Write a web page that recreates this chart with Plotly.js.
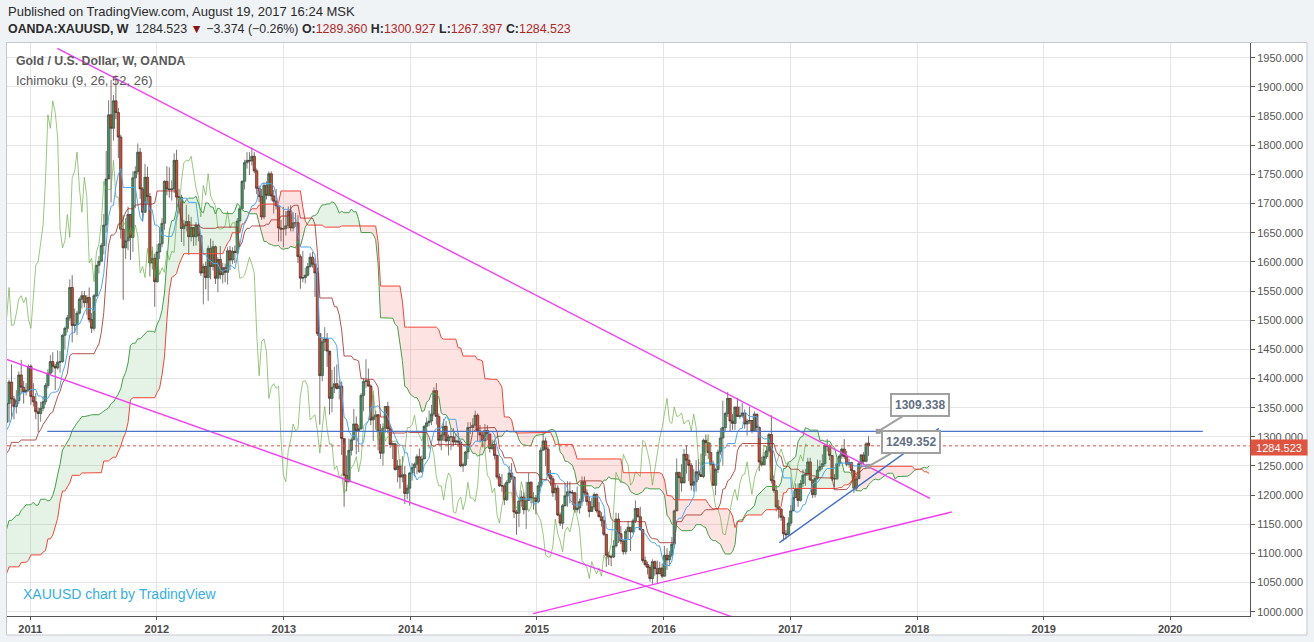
<!DOCTYPE html>
<html><head><meta charset="utf-8">
<script src="https://cdn.plot.ly/plotly-3.0.1.min.js"></script>
<style>html,body{margin:0;padding:0;background:#f0f3f6;}#chart{width:1314px;height:642px;}</style>
</head><body><div id="chart"></div>
<script>
// Weekly bars (Monday dates), first bar week of 2009-04-06
const firstWeek = '2009-04-06';
const open = [
 897,882,870,911,886,915,929,957,978,961,937,935,940,931,913,937,953,953,955,946,951,955,996,1006,1004,990,1003,1049,1052,1056,1040,1095,1118,1145,1175,1162,1118,1110,1105,
 1097,1138,1131,1090, 1083,1050,1090,1097, 1118,1133,1103,1107,1106, 1127,1161,1125,1140, 1180,1208,1227,1176,1212, 1219,1226,1256,1256, 1210,1210,1190,1188, 1182,1204,1215,1227,1237, 1247,1246,1275,1296, 1317,1346,1369,1325, 1357,1394,1365,1352,1362, 1406,1385,1377,1380,
 1421,1369,1360,1343,1340, 1349,1360,1388,1409, 1429,1421,1418,1428, 1429,1474,1486,1504, 1556,1491,1492,1512,1536, 1542,1530,1539,1501, 1486,1542,1594,1601, 1628,1663,1742,1852,1829, 1876,1856,1814,1656, 1624,1636,1681,1642,1744, 1755,1788,1725,1685, 1745,1712,1598,1606,
 1566,1617,1631,1666,1738, 1725,1724,1725,1774, 1711,1711,1657,1662, 1669,1643,1659,1643,1663, 1645,1581,1592,1573, 1623,1592,1626,1572, 1604,1578,1590,1582,1619, 1603,1618,1616,1670, 1691,1738,1770,1774, 1773,1781,1756,1726,1712, 1677,1731,1714,1751, 1713,1704,1696,1658,1656,
 1657,1662,1687,1658, 1667,1667,1609,1572, 1573,1577,1592,1608, 1596,1581,1477,1405,1463, 1468,1447,1366,1385, 1391,1383,1387,1297, 1234,1223,1277,1295,1322, 1310,1314,1371,1395, 1396,1387,1329,1334,1338, 1310,1272,1315,1352, 1314,1287,1288,1244, 1250,1231,1235,1203,1212,
 1238,1247,1253,1266, 1240,1262,1318,1324, 1327,1339,1379,1335,1294, 1303,1318,1293,1300, 1300,1291,1293,1291, 1250,1252,1274,1316,1316, 1320,1337,1310,1303, 1293,1311,1305,1280, 1287,1268,1231,1216,1216, 1192,1222,1238,1231, 1171,1169,1190,1197, 1175,1191,1222,1195,1195,
 1189,1216,1277,1293, 1279,1234,1228,1204, 1212,1166,1152,1182,1199, 1206,1204,1204,1175, 1178,1189,1223,1204, 1189,1172,1180,1201,1173, 1163,1156,1133,1097, 1094,1094,1113,1159,1134, 1121,1103,1138,1145, 1137,1156,1177,1163, 1141,1088,1081,1076,1057, 1086,1074,1065,1075,
 1061,1097,1089,1097, 1116,1173,1239,1230,1221, 1270,1260,1251,1217, 1223,1240,1235,1232, 1294,1290,1273,1253,1217, 1244,1274,1298,1316, 1340,1366,1327,1323, 1351,1335,1336,1341,1322, 1327,1328,1310,1339, 1316,1257,1252,1266,1276, 1304,1225,1208,1180, 1176,1162,1134,1132,
 1152,1173,1196,1210,1191, 1220,1234,1236,1257, 1226,1201,1229,1243, 1249,1254,1285,1284, 1268,1228,1228,1254,1267, 1279,1266,1253,1256, 1242,1212,1228,1254,1269, 1258,1289.360
];
const high = [
 900,895,915,912,920,935,960,980,990,965,945,945,945,935,940,958,960,965,960,955,960,1000,1010,1025,1016,1010,1052,1070,1070,1050,1100,1120,1150,1195,1227,1165,1140,1110,1110,
 1162,1155,1140,1100, 1090,1095,1125,1120, 1145,1140,1130,1110,1130, 1167,1170,1145,1183, 1212,1249,1230,1217,1227, 1238,1264,1262,1265, 1215,1215,1200,1190, 1210,1222,1235,1243,1253, 1259,1278,1300,1320, 1350,1387,1370,1360, 1398,1424,1370,1380,1412, 1432,1396,1392,1424,
 1424,1392,1375,1350,1360, 1370,1392,1416,1440, 1445,1425,1448,1447, 1476,1489,1509,1570, 1577,1520,1516,1539,1550, 1550,1543,1556,1512, 1545,1595,1610,1632, 1682,1790,1877,1912,1886, 1920,1864,1818,1680, 1675,1695,1682,1755,1764, 1803,1795,1728,1768, 1763,1718,1620,1614,
 1630,1660,1675,1740,1764, 1762,1740,1786,1792, 1725,1715,1672,1698, 1681,1677,1657,1668,1667, 1645,1597,1600,1628, 1640,1636,1628,1608, 1627,1598,1597,1625,1627, 1625,1628,1675,1695, 1740,1775,1788,1788, 1796,1788,1760,1731,1725, 1737,1738,1755,1755, 1723,1725,1697,1672,1694,
 1687,1695,1697,1685, 1684,1680,1613,1619, 1590,1598,1615,1617, 1605,1590,1478,1470,1488, 1478,1440,1415,1420, 1424,1397,1395,1290, 1268,1297,1299,1348,1335, 1320,1375,1400,1433, 1417,1390,1372,1345,1335, 1322,1323,1352,1360, 1321,1290,1290,1260, 1262,1267,1250,1218,1240,
 1255,1256,1270,1280, 1268,1320,1333,1345, 1355,1385,1392,1340,1308, 1331,1327,1304,1315, 1315,1306,1307,1295, 1256,1276,1325,1325,1332, 1345,1340,1320,1310, 1322,1320,1305,1295, 1293,1270,1237,1236,1220, 1226,1250,1255,1232, 1175,1196,1208,1205, 1223,1238,1224,1205,1200,
 1223,1282,1307,1299, 1283,1243,1233,1220, 1217,1170,1185,1219,1224, 1223,1209,1205,1215, 1194,1232,1232,1210, 1198,1195,1205,1203,1188, 1171,1165,1133,1103, 1098,1123,1170,1169,1147, 1124,1142,1156,1145, 1160,1191,1178,1180, 1142,1095,1086,1080,1090, 1088,1088,1086,1083,
 1113,1109,1104,1128, 1175,1263,1240,1253,1279, 1286,1270,1255,1245, 1260,1262,1271,1297, 1304,1291,1290,1259,1247, 1278,1315,1362,1343, 1377,1365,1339,1352, 1367,1352,1358,1347,1331, 1352,1329,1344,1338, 1318,1266,1274,1284,1307, 1337,1234,1217,1192, 1178,1165,1140,1162,
 1183,1208,1220,1220,1226, 1244,1245,1264,1264, 1227,1232,1261,1260, 1270,1288,1296,1287, 1266,1236,1264,1270,1282, 1296,1276,1262,1257, 1240,1233,1258,1270,1274, 1291,1300.927
];
const low = [
 866,865,868,880,883,908,925,945,955,930,922,920,925,905,912,935,940,945,940,930,940,945,985,1000,985,988,1000,1040,1042,1027,1040,1090,1115,1140,1160,1105,1100,1075,1090,
 1095,1120,1085,1075, 1044,1045,1090,1085, 1110,1100,1095,1085,1100, 1125,1120,1125,1140, 1163,1200,1160,1185,1195, 1215,1220,1225,1200, 1192,1185,1178,1157, 1180,1192,1210,1222,1235, 1240,1240,1270,1290, 1312,1340,1318,1320, 1325,1330,1330,1340,1356, 1374,1357,1371,1378,
 1355,1352,1330,1308,1326, 1344,1355,1383,1407, 1410,1380,1415,1410, 1427,1450,1479,1499, 1462,1478,1475,1510,1520, 1522,1509,1496,1478, 1482,1540,1580,1600, 1613,1650,1750,1702,1808, 1845,1778,1640,1535, 1605,1620,1603,1617,1692, 1750,1708,1670,1684, 1700,1575,1587,1523,
 1564,1605,1625,1655,1714, 1710,1705,1718,1688, 1683,1634,1627,1652, 1612,1635,1627,1628,1635, 1576,1527,1553,1533, 1570,1585,1562,1548, 1570,1563,1565,1561,1586, 1596,1598,1612,1649, 1690,1724,1760,1749, 1765,1752,1716,1702,1672, 1673,1707,1712,1705, 1683,1690,1635,1635,1625,
 1645,1657,1652,1652, 1660,1598,1554,1565, 1563,1575,1590,1590, 1540,1473,1321,1395,1447, 1420,1338,1342,1375, 1381,1364,1269,1180, 1207,1222,1268,1295,1270, 1274,1312,1344,1384, 1386,1320,1293,1312,1277, 1262,1251,1307,1306, 1281,1262,1242,1222, 1211,1222,1185,1193,1182,
 1225,1232,1236,1238, 1238,1262,1307,1318, 1320,1335,1321,1285,1277, 1293,1290,1268,1277, 1284,1286,1283,1248, 1240,1250,1262,1305,1310, 1312,1292,1290,1282, 1280,1294,1273,1277, 1261,1227,1214,1206,1183, 1190,1220,1226,1161, 1132,1145,1180,1167, 1142,1190,1186,1175,1167,
 1186,1213,1276,1250, 1230,1216,1197,1191, 1164,1147,1142,1180,1180, 1186,1183,1170,1170, 1168,1182,1200,1182, 1162,1175,1175,1170,1162, 1146,1130,1077,1080, 1078,1092,1110,1118,1116, 1098,1098,1123,1104, 1134,1152,1162,1139, 1084,1077,1064,1052,1046, 1062,1049,1066,1058,
 1061,1072,1078,1093, 1109,1175,1192,1206,1223, 1237,1224,1208,1206, 1206,1226,1231,1229, 1267,1262,1250,1216,1200, 1238,1269,1251,1308, 1334,1310,1312,1312, 1334,1331,1333,1314,1302, 1322,1306,1309,1309, 1241,1249,1251,1262,1272, 1220,1204,1172,1160, 1156,1122,1124,1133,
 1147,1174,1195,1180,1189, 1214,1216,1233,1224, 1195,1196,1226,1240, 1244,1249,1275,1260, 1224,1214,1226,1249,1262, 1262,1249,1247,1237, 1204,1207,1233,1247,1253, 1256,1267.397
];
const close = [
 882,870,911,886,915,929,957,978,961,937,935,940,931,913,937,953,953,955,946,951,955,996,1006,1004,990,1003,1049,1052,1056,1040,1095,1118,1145,1175,1162,1118,1110,1105,1097,
 1138,1131,1090,1083, 1050,1090,1097,1118, 1133,1103,1107,1106,1127, 1161,1125,1140,1180, 1208,1227,1176,1212,1219, 1226,1256,1256,1210, 1210,1190,1188,1182, 1204,1215,1227,1237,1247, 1246,1275,1296,1317, 1346,1369,1325,1357, 1394,1365,1352,1362,1406, 1385,1377,1380,1421,
 1369,1360,1343,1340,1349, 1360,1388,1409,1429, 1421,1418,1428,1429, 1474,1486,1504,1556, 1491,1492,1512,1536,1542, 1530,1539,1501,1486, 1542,1594,1601,1628, 1663,1742,1852,1829,1876, 1856,1814,1656,1624, 1636,1681,1642,1744,1755, 1788,1725,1685,1745, 1712,1598,1606,1566,
 1617,1631,1666,1738,1725, 1724,1725,1774,1711, 1711,1657,1662,1669, 1643,1659,1643,1663,1645, 1581,1592,1573,1623, 1592,1626,1572,1604, 1578,1590,1582,1619,1603, 1618,1616,1670,1691, 1738,1770,1774,1773, 1781,1756,1726,1712,1677, 1731,1714,1751,1713, 1704,1696,1658,1656,1657,
 1662,1687,1658,1667, 1667,1609,1572,1573, 1577,1592,1608,1596, 1581,1477,1405,1463,1468, 1447,1366,1385,1391, 1383,1387,1297,1234, 1223,1277,1295,1322,1310, 1314,1371,1395,1396, 1387,1329,1334,1338,1310, 1272,1315,1352,1314, 1287,1288,1244,1250, 1231,1235,1203,1212,1238,
 1247,1253,1266,1240, 1262,1318,1324,1327, 1339,1379,1335,1294,1303, 1318,1293,1300,1300, 1291,1293,1291,1250, 1252,1274,1316,1316,1320, 1337,1310,1303,1293, 1311,1305,1280,1287, 1268,1231,1216,1216,1192, 1222,1238,1231,1171, 1169,1190,1197,1175, 1191,1222,1195,1195,1189,
 1216,1277,1293,1279, 1234,1228,1204,1212, 1166,1152,1182,1199,1206, 1204,1204,1175,1178, 1189,1223,1204,1189, 1172,1180,1201,1173,1163, 1156,1133,1097,1094, 1094,1113,1159,1134,1121, 1103,1138,1145,1137, 1156,1177,1163,1141, 1088,1081,1076,1057,1086, 1074,1065,1075,1061,
 1097,1089,1097,1116, 1173,1239,1230,1221,1270, 1260,1251,1217,1223, 1240,1235,1232,1294, 1290,1273,1253,1217,1244, 1274,1298,1316,1340, 1366,1327,1323,1351, 1335,1336,1341,1322,1327, 1328,1310,1339,1316, 1257,1252,1266,1276,1304, 1225,1208,1180,1176, 1162,1134,1132,1152,
 1173,1196,1210,1191,1220, 1234,1236,1257,1226, 1201,1229,1243,1249, 1254,1285,1284,1268, 1228,1228,1254,1267,1279, 1266,1253,1256,1242, 1212,1228,1254,1269,1258, 1287.897,1284.523
];
// Drawings
const upperTrendX = ['2011-03-20','2018-02-07'], upperTrendY = [1966.1,1194.6];
const lowerTrendX = ['2010-10-01','2016-07-25'], lowerTrendY = [1438.0,989.6];
const risingTrendX = ['2014-12-21','2018-04-11'], risingTrendY = [996.8,1171.1];
const blueTrendX = ['2016-11-30','2018-03-05'], blueTrendY = [1118.5,1314.6];
const levelX = ['2011-02-19','2020-04-04'], levelY = [1309.338,1309.338];
const calloutX = ['2017-09-11','2017-08-14'], calloutY = [1309.338,1249.352];
const yearTicks = ['2011','2012','2013','2014','2015','2016','2017','2018','2019','2020'];
const ichimokuParams = [9,26,52,26];

const N = Math.min(open.length, high.length, low.length, close.length);
const DAY = 864e5;
const t0 = Date.parse(firstWeek + 'T00:00:00Z');
const iso = ms => new Date(ms).toISOString().slice(0,10);
const dates = [], ext = [];
for (let i = 0; i < N + 30; i++) { ext.push(iso(t0 + i*7*DAY)); if (i < N) dates.push(ext[i]); }
const O = open.slice(0,N), H = high.slice(0,N), L = low.slice(0,N), C = close.slice(0,N);

function mid(i, n){ let hi=-Infinity, lo=Infinity; for(let k=i-n+1;k<=i;k++){ hi=Math.max(hi,H[k]); lo=Math.min(lo,L[k]); } return (hi+lo)/2; }
const [pConv, pBase, pSpan, disp] = ichimokuParams;
const shift = disp - 1;
const convX=[],convY=[],baseX=[],baseY=[],lagX=[],lagY=[];
const cloudX=[],spanA=[],spanB=[],spanMax=[];
for (let i=0;i<N;i++){
  if (i>=pConv-1){ convX.push(dates[i]); convY.push(mid(i,pConv)); }
  if (i>=pBase-1){ baseX.push(dates[i]); baseY.push(mid(i,pBase)); }
  if (i>=shift){ lagX.push(dates[i-shift]); lagY.push(C[i]); }
  if (i>=pSpan-1){
    const a=(mid(i,pConv)+mid(i,pBase))/2, b=mid(i,pSpan);
    cloudX.push(ext[i+shift]); spanA.push(a); spanB.push(b); spanMax.push(Math.max(a,b));
  }
}
const noHover = {hoverinfo:'skip', showlegend:false};
const traces = [
  Object.assign({x:cloudX,y:spanB,type:'scatter',mode:'lines',line:{width:0,color:'rgba(0,0,0,0)'}},noHover),
  Object.assign({x:cloudX,y:spanMax,type:'scatter',mode:'lines',line:{width:0,color:'rgba(0,0,0,0)'},fill:'tonexty',fillcolor:'rgba(76,175,80,0.15)'},noHover),
  Object.assign({x:cloudX,y:spanA,type:'scatter',mode:'lines',line:{width:0,color:'rgba(0,0,0,0)'}},noHover),
  Object.assign({x:cloudX,y:spanMax,type:'scatter',mode:'lines',line:{width:0,color:'rgba(0,0,0,0)'},fill:'tonexty',fillcolor:'rgba(244,67,54,0.15)'},noHover),
  Object.assign({x:lagX,y:lagY,type:'scatter',mode:'lines',line:{width:1,color:'rgba(100,170,60,0.65)'}},noHover),
  {x:dates,open:O,high:H,low:L,close:C,type:'candlestick',hoverinfo:'skip',showlegend:false,whiskerwidth:0,
   increasing:{line:{color:'#404a43',width:0.7},fillcolor:'#3f9460'},
   decreasing:{line:{color:'#4a2d28',width:0.7},fillcolor:'#d24a32'}},
  Object.assign({x:cloudX,y:spanA,type:'scatter',mode:'lines',line:{width:1,color:'#43a047'}},noHover),
  Object.assign({x:cloudX,y:spanB,type:'scatter',mode:'lines',line:{width:1,color:'#f0473a'}},noHover),
  Object.assign({x:convX,y:convY,type:'scatter',mode:'lines',line:{width:1,color:'#4aa8f0'}},noHover),
  Object.assign({x:baseX,y:baseY,type:'scatter',mode:'lines',line:{width:1,color:'rgba(160,40,35,0.8)'}},noHover),
  Object.assign({x:upperTrendX,y:upperTrendY,type:'scatter',mode:'lines',line:{width:1.4,color:'#f53cf5'}},noHover),
  Object.assign({x:lowerTrendX,y:lowerTrendY,type:'scatter',mode:'lines',line:{width:1.4,color:'#f53cf5'}},noHover),
  Object.assign({x:risingTrendX,y:risingTrendY,type:'scatter',mode:'lines',line:{width:1.4,color:'#f53cf5'}},noHover),
  Object.assign({x:blueTrendX,y:blueTrendY,type:'scatter',mode:'lines',line:{width:1.4,color:'#3f6fd0'}},noHover),
  Object.assign({x:levelX,y:levelY,type:'scatter',mode:'lines',line:{width:1.4,color:'#4a74c9'}},noHover),
  Object.assign({x:calloutX,y:calloutY,type:'scatter',mode:'markers',marker:{symbol:'square',size:5,color:'#9a9a9a'}},noHover)
];
const last = N-1;
const lastC = C[last], chg = C[last]-C[last-1], pct = chg/C[last-1]*100;
const signed = (v,d) => (v<0?'\u2212':'') + Math.abs(v).toFixed(d);
const red = s => '<span style="color:#b3261e">'+s+'</span>';
const header2 = '<b>OANDA:XAUUSD, W</b>\u00a0\u00a0' + lastC.toFixed(3) + ' <span style="color:#8b1212">\u25BC</span> ' +
  signed(chg,3) + ' (' + signed(pct,2) + '%) ' +
  '<b>O:</b>' + red(O[last].toFixed(3)) + ' <b>H:</b>' + red(H[last].toFixed(3)) + ' <b>L:</b>' + red(L[last].toFixed(3)) + ' <b>C:</b>' + red(C[last].toFixed(3));
const px = x => (x-7)/1243, py = y => (616-y)/573;
const F = 'Liberation Sans, Arial, sans-serif';
const layout = {
  width:1314, height:642,
  margin:{l:7,r:64,t:43,b:26,pad:0},
  paper_bgcolor:'#f0f3f6', plot_bgcolor:'rgba(0,0,0,0)',
  showlegend:false, boxgap:0.05, boxgroupgap:0,
  xaxis:{type:'date', range:['2010-10-26','2020-08-18'], rangeslider:{visible:false},
    tickvals:yearTicks.map(y=>y+'-01-01'), ticktext:yearTicks,
    showgrid:true, gridcolor:'#e5e5e5', gridwidth:1, ticks:'outside', ticklen:3, tickcolor:'#555',
    showline:true, linecolor:'#555', linewidth:1, zeroline:false,
    tickfont:{family:F, size:11, color:'#4a4a4a', weight:'bold'}},
  yaxis:{side:'right', range:[992.8,1975.2], tick0:1000, dtick:50, tickformat:'.3f',
    showgrid:true, gridcolor:'#e5e5e5', ticks:'outside', ticklen:4, tickcolor:'#555',
    showline:true, linecolor:'#555', linewidth:1, zeroline:false,
    tickfont:{family:F, size:11, color:'#555'}},
  shapes:[
    {type:'rect', xref:'paper', yref:'paper', x0:px(6.5), x1:px(1307), y0:py(635), y1:py(42.5),
     fillcolor:'#ffffff', line:{color:'#c4c9cf', width:1}, layer:'below'},
    {type:'line', xref:'paper', yref:'y', x0:0, x1:1, y0:lastC, y1:lastC, line:{color:'#e0533f', width:1, dash:'dot'}}
  ],
  annotations:[
    {xref:'paper',yref:'paper',x:px(6),y:py(11),xanchor:'left',yanchor:'middle',showarrow:false,
     text:'Published on TradingView.com, August 19, 2017 16:24 MSK', font:{family:F,size:13,color:'#2a2a2a'}},
    {xref:'paper',yref:'paper',x:px(6),y:py(29),xanchor:'left',yanchor:'middle',showarrow:false,
     text:header2, font:{family:F,size:12.4,color:'#2a2a2a'}},
    {xref:'paper',yref:'paper',x:px(14),y:py(61),xanchor:'left',yanchor:'middle',showarrow:false,
     text:'Gold / U.S. Dollar, W, OANDA', font:{family:F,size:12.3,color:'#5a5a5a',weight:'bold'}},
    {xref:'paper',yref:'paper',x:px(14),y:py(80),xanchor:'left',yanchor:'middle',showarrow:false,
     text:'Ichimoku (9, 26, 52, 26)', font:{family:F,size:13,color:'#5a5a5a'}},
    {xref:'paper',yref:'paper',x:px(21),y:py(594),xanchor:'left',yanchor:'middle',showarrow:false,
     text:'XAUUSD chart by TradingView', font:{family:F,size:14,color:'#36aee6'}},
    {xref:'paper',yref:'y',x:1,y:lastC,xanchor:'left',yanchor:'top',yshift:7,showarrow:false,
     text:lastC.toFixed(3), bgcolor:'#e0533f', font:{family:F,size:11,color:'#ffffff'}, borderpad:1, width:54, height:13},
    {xref:'x',yref:'y',x:calloutX[0],y:calloutY[0],text:calloutY[0].toFixed(3),showarrow:true,arrowhead:0,arrowwidth:2,
     arrowcolor:'#a0a0a0',ax:42,ay:-26,bordercolor:'#a0a0a0',borderwidth:2,borderpad:3,bgcolor:'#ffffff',
     font:{family:F,size:12,color:'#5f6f80',weight:'bold'}},
    {xref:'x',yref:'y',x:calloutX[1],y:calloutY[1],text:calloutY[1].toFixed(3),showarrow:true,arrowhead:0,arrowwidth:2,
     arrowcolor:'#a0a0a0',ax:42,ay:-24,bordercolor:'#a0a0a0',borderwidth:2,borderpad:3,bgcolor:'#ffffff',
     font:{family:F,size:12,color:'#5f6f80',weight:'bold'}}
  ]
};
Plotly.newPlot('chart', traces, layout, {displayModeBar:false, staticPlot:true});
</script></body></html>
